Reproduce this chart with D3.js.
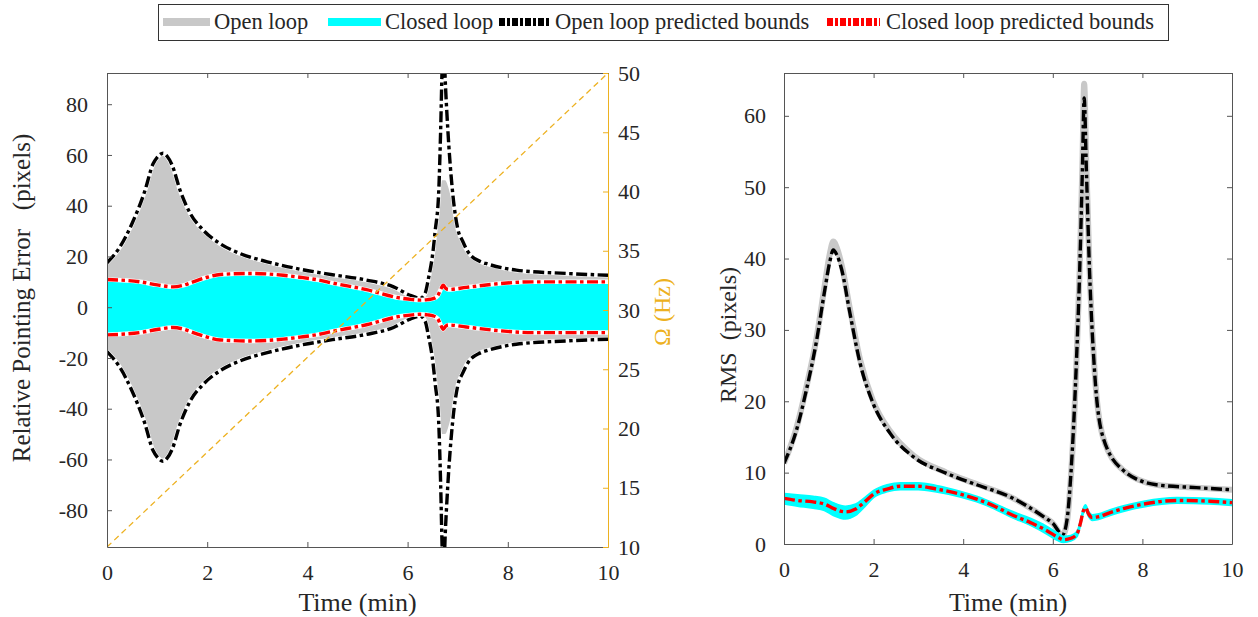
<!DOCTYPE html>
<html><head><meta charset="utf-8">
<script src="https://cdn.jsdelivr.net/npm/d3@7"></script>
<style>
html,body{margin:0;padding:0;background:#fff;}
svg text{font-family:"Liberation Serif","Times New Roman",serif;fill:#262626;white-space:pre;}
</style></head>
<body>
<svg id="c" width="1258" height="617"></svg>
<script>
// ---------- DATA ----------
const legendLabels = ["Open loop", "Closed loop", "Open loop predicted bounds", "Closed loop predicted bounds"];
const xTicks = [0, 2, 4, 6, 8, 10];
const yTicksLeft = [-80, -60, -40, -20, 0, 20, 40, 60, 80];
const yTicksOmega = [10, 15, 20, 25, 30, 35, 40, 45, 50];
const yTicksRms = [0, 10, 20, 30, 40, 50, 60];

// Left panel: envelopes (pixels), symmetric about 0
const timeOL = [0,0.25,0.5,0.75,0.92,1.0,1.12,1.2,1.3,1.46,1.66,1.92,2.26,2.65,3.2,3.85,4.5,5.18,5.72,6.05,6.25,6.35,6.41,6.51,6.55,6.62,6.66,6.69,6.72,6.75,6.8,6.9,7.0,7.1,7.2,7.45,7.6,8.17,9.17,10];
const olBound = [17.5,23.5,33,45.5,56.5,59,60.7,59.5,56,46,37,30.4,25,21.2,17.9,15,12.8,10.7,8,4.7,3.5,5.5,10.7,22.5,30,45,70,95,105,90,71,45,31,26,22,18,17,14.6,13.3,12.6];
const olActual = [16.5,22.5,32,44.5,55.5,58,59.7,58.5,55,45,36,29.5,24,20.3,17,14.2,12,10,7.3,4.2,3.2,5,10,21,28,40,47,50,50,50,48,40,30,25,21.5,17.5,16.5,14,12.7,12];
const timeCL = [0,0.66,1.0,1.32,1.5,1.72,2.0,2.26,2.85,3.52,3.85,4.2,4.51,5.18,5.85,6.1,6.25,6.4,6.51,6.6,6.65,6.71,6.76,6.81,7.17,7.84,8.5,10];
const clBound = [10.9,10,8.8,8,8.5,10,11.8,12.9,13.3,12.6,11.8,10.8,9.5,6.9,3.6,3.0,2.8,3.0,3.4,4.5,6.5,8.7,7.5,7,7.8,9.3,10,10];
const clActual = [10.5,9.6,8.4,7.6,8.1,9.6,11.4,12.5,12.9,12.2,11.4,10.4,9.1,6.5,3.2,2.6,2.4,2.6,3.0,4.1,6.0,8.2,7.0,6.6,7.4,8.9,9.6,9.6];
// Omega sweep (Hz) versus time
const omegaTime = [0, 10];
const omegaHz = [10, 50];

// Right panel: RMS (pixels)
const timeRMS = [0,0.28,0.5,0.73,0.91,1.02,1.1,1.18,1.29,1.47,1.7,1.99,2.37,2.89,3.63,4.3,5.05,5.8,6.0,6.22,6.32,6.41,6.52,6.6,6.66,6.7,6.75,6.82,6.93,7.12,7.56,8.31,9.2,10];
const olRms = [11.3,16,21.6,28.6,35.6,39.5,41.2,40.5,38.4,32.4,25.3,19.7,15.5,12.2,9.9,8.3,6.6,3.8,2.9,1.3,3.5,10.4,24.4,38.3,52.3,62.5,52.3,38.3,24.4,15,10.4,8.3,7.9,7.6];
const olRmsActual = [11.3,16.3,22,29,36.3,40.6,42.4,41.5,39,33,25.8,20,15.8,12.4,10,8.4,6.6,3.8,2.9,1.2,3.3,10,24,38.5,53,64.5,53,38.5,24.5,15,10.4,8.3,7.9,7.6];
const timeRmsCL = [0,0.3,0.65,0.9,1.1,1.37,1.6,1.8,2.0,2.3,2.6,3.0,3.4,3.93,4.3,4.7,5.05,5.5,5.86,6.1,6.24,6.4,6.54,6.62,6.68,6.73,6.8,6.88,7.0,7.28,7.6,8.03,8.77,9.5,10];
const clRms = [6.4,6.1,5.9,5.6,5.0,4.5,4.9,5.9,7.0,7.7,8.1,8.1,7.7,7.0,6.3,5.3,4.2,3.0,1.9,1.0,0.6,0.8,1.4,3.0,4.6,5.1,4.2,3.7,3.8,4.4,5.0,5.6,6.1,6.0,5.8];
const clRmsLo = [5.6,5.3,5.0,4.7,4.0,3.5,4.0,5.2,6.5,7.3,7.6,7.6,7.3,6.6,5.9,4.9,3.8,2.6,1.4,0.5,0.2,0.4,1.0,2.6,4.2,4.7,3.8,3.3,3.4,4.0,4.6,5.2,5.7,5.6,5.4];
const clRmsHi = [7.1,6.9,6.7,6.4,5.8,5.3,5.6,6.5,7.5,8.3,8.6,8.6,8.2,7.4,6.7,5.7,4.7,3.6,2.5,1.6,1.1,1.2,1.8,3.4,5.0,5.5,4.6,4.1,4.2,4.8,5.4,6.0,6.5,6.4,6.2];

// ---------- STYLE ----------
const GRAY = "#c8c8c8", CYAN = "#00ffff", ORANGE = "#EDB120", AX = "#555555", TXT = "#262626";
const FONT = '"Liberation Serif", "Times New Roman", serif';
const DASH = "11,3.5,3.5,3.5";

const svg = d3.select("#c");
const zip = (t, v) => t.map((d, i) => [d, v[i]]);

// ---------- LEFT PANEL ----------
const L = {x0: 107, x1: 608, y0: 73, y1: 547};
const xL = d3.scaleLinear().domain([0, 10]).range([L.x0, L.x1]);
const yL = d3.scaleLinear().domain([-94.5, 92.3]).range([L.y1, L.y0]);
const yO = d3.scaleLinear().domain([10, 50]).range([L.y1, L.y0]);

svg.append("clipPath").attr("id", "clipL").append("rect")
  .attr("x", L.x0).attr("y", L.y0).attr("width", L.x1 - L.x0).attr("height", L.y1 - L.y0);
const gL = svg.append("g").attr("clip-path", "url(#clipL)");

const bandArea = (t, v) => d3.area().curve(d3.curveMonotoneX)
  .x((d) => xL(d[0])).y0((d) => yL(-d[1])).y1((d) => yL(d[1]))(zip(t, v));
gL.append("path").attr("d", bandArea(timeOL, olActual)).attr("fill", GRAY);
gL.append("path").attr("d", bandArea(timeCL, clActual)).attr("fill", CYAN);

const lineL = (t, v, s) => d3.line().curve(d3.curveMonotoneX)
  .x((d) => xL(d[0])).y((d) => yL(s * d[1]))(zip(t, v));
[[timeOL, olBound, "#000"], [timeCL, clBound, "#ff0000"]].forEach(([t, v, c]) => {
  [1, -1].forEach((s) => {
    gL.append("path").attr("d", lineL(t, v, s)).attr("fill", "none")
      .attr("stroke", "#fff").attr("stroke-width", 4.5);
    gL.append("path").attr("d", lineL(t, v, s)).attr("fill", "none")
      .attr("stroke", c).attr("stroke-width", 3.4).attr("stroke-dasharray", DASH);
  });
});
gL.append("path")
  .attr("d", d3.line().x((d) => xL(d[0])).y((d) => yO(d[1]))(zip(omegaTime, omegaHz)))
  .attr("fill", "none").attr("stroke", ORANGE).attr("stroke-width", 1.3).attr("stroke-dasharray", "6,4");

function styleAxis(g, color, fs) {
  g.attr("font-family", FONT).attr("font-size", fs);
  g.select(".domain").attr("stroke", color);
  g.selectAll(".tick line").attr("stroke", color);
  g.selectAll(".tick text").attr("fill", color === AX ? TXT : color)
    .style("font-size", fs + "px").style("font-family", FONT);
}
// bottom
let g = svg.append("g").attr("transform", `translate(0,${L.y1})`)
  .call(d3.axisBottom(xL).tickValues(xTicks).tickSize(-5).tickSizeOuter(0).tickPadding(17).tickFormat((d) => String(d)));
styleAxis(g, AX, 22);
// top
g = svg.append("g").attr("transform", `translate(0,${L.y0})`)
  .call(d3.axisTop(xL).tickValues(xTicks).tickSize(-5).tickSizeOuter(0).tickFormat(""));
styleAxis(g, AX, 22);
// left
g = svg.append("g").attr("transform", `translate(${L.x0},0)`)
  .call(d3.axisLeft(yL).tickValues(yTicksLeft).tickSize(-5).tickSizeOuter(0).tickPadding(19).tickFormat((d) => String(d)));
styleAxis(g, AX, 22);
// right (Omega)
g = svg.append("g").attr("transform", `translate(${L.x1},0)`)
  .call(d3.axisRight(yO).tickValues(yTicksOmega).tickSize(-5).tickSizeOuter(0).tickPadding(10).tickFormat((d) => String(d)));
styleAxis(g, ORANGE, 22);

// ---------- RIGHT PANEL ----------
const R = {x0: 784, x1: 1232, y0: 73, y1: 544};
const xR = d3.scaleLinear().domain([0, 10]).range([R.x0, R.x1]);
const yR = d3.scaleLinear().domain([0, 66]).range([R.y1, R.y0]);
svg.append("clipPath").attr("id", "clipR").append("rect")
  .attr("x", R.x0).attr("y", R.y0 - 2).attr("width", R.x1 - R.x0).attr("height", R.y1 - R.y0 + 2);
const gR = svg.append("g").attr("clip-path", "url(#clipR)");
const lineR = (t, v) => d3.line().curve(d3.curveMonotoneX).x((d) => xR(d[0])).y((d) => yR(d[1]))(zip(t, v));

gR.append("path").attr("d", lineR(timeRMS, olRmsActual)).attr("fill", "none")
  .attr("stroke", GRAY).attr("stroke-width", 6).attr("stroke-linejoin", "round");
gR.append("path").attr("d", lineR(timeRMS, olRms)).attr("fill", "none")
  .attr("stroke", "#000").attr("stroke-width", 3.4).attr("stroke-dasharray", DASH);
gR.append("path")
  .attr("d", d3.area().curve(d3.curveMonotoneX).x((d) => xR(d[0])).y0((d) => yR(d[1])).y1((d) => yR(d[2]))(
    timeRmsCL.map((t, i) => [t, clRmsLo[i], clRmsHi[i]])))
  .attr("fill", CYAN).attr("stroke", CYAN).attr("stroke-width", 1.5);
gR.append("path").attr("d", lineR(timeRmsCL, clRms)).attr("fill", "none")
  .attr("stroke", "#ff0000").attr("stroke-width", 3.4).attr("stroke-dasharray", DASH);

g = svg.append("g").attr("transform", `translate(0,${R.y1})`)
  .call(d3.axisBottom(xR).tickValues(xTicks).tickSize(-5).tickSizeOuter(0).tickPadding(17).tickFormat((d) => String(d)));
styleAxis(g, AX, 22);
g = svg.append("g").attr("transform", `translate(0,${R.y0})`)
  .call(d3.axisTop(xR).tickValues(xTicks).tickSize(-5).tickSizeOuter(0).tickFormat(""));
styleAxis(g, AX, 22);
g = svg.append("g").attr("transform", `translate(${R.x0},0)`)
  .call(d3.axisLeft(yR).tickValues(yTicksRms).tickSize(-5).tickSizeOuter(0).tickPadding(18).tickFormat((d) => String(d)));
styleAxis(g, AX, 22);
g = svg.append("g").attr("transform", `translate(${R.x1},0)`)
  .call(d3.axisRight(yR).tickValues(yTicksRms).tickSize(-5).tickSizeOuter(0).tickFormat(""));
styleAxis(g, AX, 22);

// ---------- AXIS LABELS ----------
svg.append("text").attr("x", (L.x0 + L.x1) / 2).attr("y", 611).attr("text-anchor", "middle")
  .style("font-size", "26px").text("Time (min)");
svg.append("text").attr("x", (R.x0 + R.x1) / 2).attr("y", 611).attr("text-anchor", "middle")
  .style("font-size", "26px").text("Time (min)");
svg.append("text").attr("transform", "translate(30,298) rotate(-90)").attr("text-anchor", "middle")
  .style("font-size", "25px").text("Relative Pointing Error   (pixels)");
svg.append("text").attr("transform", "translate(670,312) rotate(-90)").attr("text-anchor", "middle")
  .style("font-size", "24px").style("fill", ORANGE).text("Ω (Hz)");
svg.append("text").attr("transform", "translate(736,335) rotate(-90)").attr("text-anchor", "middle")
  .style("font-size", "24px").text("RMS  (pixels)");

// ---------- LEGEND ----------
const leg = svg.append("g");
leg.append("rect").attr("x", 158.5).attr("y", 4.5).attr("width", 1010).attr("height", 36)
  .attr("fill", "#fff").attr("stroke", "#333").attr("stroke-width", 1);
const legItems = [
  {x0: 163, x1: 210, tx: 214, color: GRAY, dash: null},
  {x0: 328, x1: 381, tx: 385, color: CYAN, dash: null},
  {x0: 499, x1: 549, tx: 555, color: "#000", dash: "6,2,3,2"},
  {x0: 827, x1: 880, tx: 886, color: "#ff0000", dash: "6,2,3,2"}
];
legItems.forEach((it, i) => {
  leg.append("line").attr("x1", it.x0).attr("x2", it.x1).attr("y1", 22).attr("y2", 22)
    .attr("stroke", it.color).attr("stroke-width", 8).attr("stroke-dasharray", it.dash);
  leg.append("text").attr("x", it.tx).attr("y", 29).style("font-size", "22.5px").text(legendLabels[i]);
});
</script>
</body></html>
